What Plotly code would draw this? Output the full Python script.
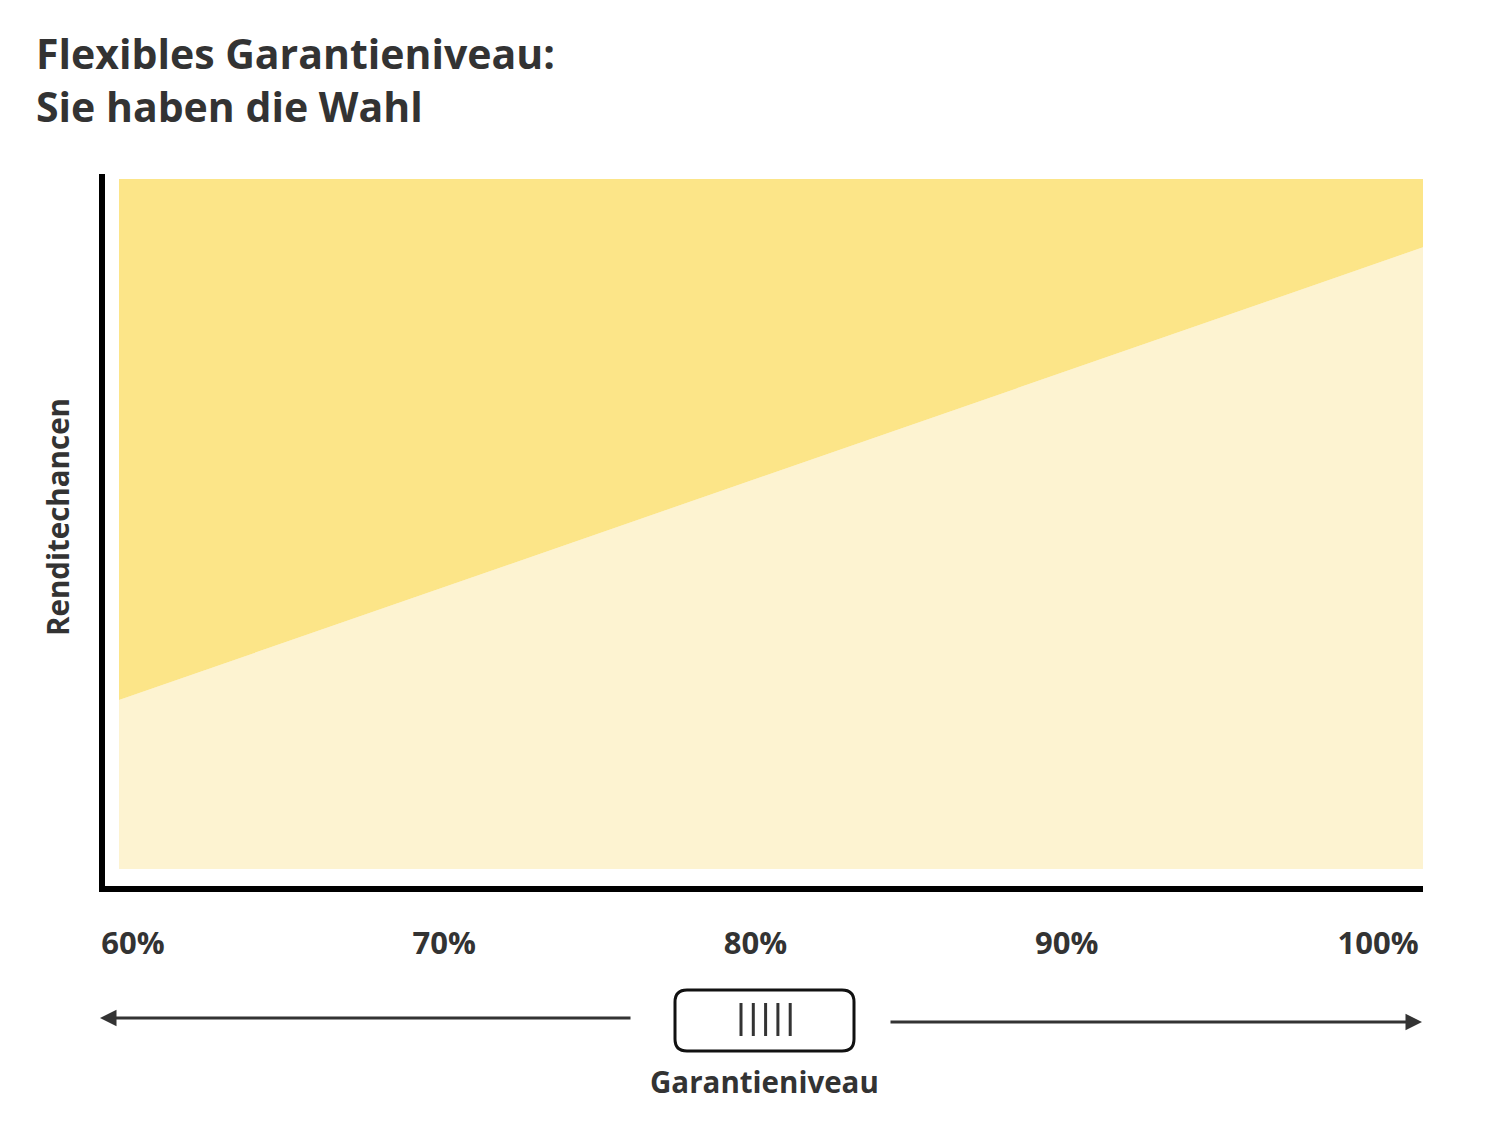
import plotly.graph_objects as go

# ---- data ----
garantie = [60, 100]                 # Garantieniveau (%)
grenze = [24.5, 90.1]                # boundary between the two zones (Renditechancen scale 0..100)
oben = [100, 100]                    # top of chart area
tick_vals = [60, 70, 80, 90, 100]
tick_text = ["60%", "70%", "80%", "90%", "100%"]
title_lines = ["Flexibles Garantieniveau:", "Sie haben die Wahl"]
y_label = "Renditechancen"
x_label = "Garantieniveau"

# page has an 8px body margin; figure is sized so the page fits the window
OFF = 8
W, H = 1500 - 2 * OFF, 1125 - 2 * OFF
def px(x):
    return (x - OFF) / W
def py(y):
    return 1 - (y - OFF) / H

FONT = "Open Sans"
TXT = "#333333"
LIGHT = "#FDF3D1"
DARK = "#FCE588"

fig = go.Figure()
fig.add_trace(go.Scatter(x=garantie, y=grenze, mode="lines", line=dict(width=0),
                         fill="tozeroy", fillcolor=LIGHT, hoverinfo="skip", showlegend=False))
fig.add_trace(go.Scatter(x=garantie, y=oben, mode="lines", line=dict(width=0),
                         fill="tonexty", fillcolor=DARK, hoverinfo="skip", showlegend=False))
fig.add_trace(go.Scatter(x=[None], y=[None], xaxis="x2", showlegend=False, hoverinfo="skip"))

shapes = []
# slider box (rounded rectangle)
bx0, bx1, by0, by1, r = 675, 854, 990, 1051, 12
path = (f"M {px(bx0+r)},{py(by0)} L {px(bx1-r)},{py(by0)} Q {px(bx1)},{py(by0)} {px(bx1)},{py(by0+r)} "
        f"L {px(bx1)},{py(by1-r)} Q {px(bx1)},{py(by1)} {px(bx1-r)},{py(by1)} "
        f"L {px(bx0+r)},{py(by1)} Q {px(bx0)},{py(by1)} {px(bx0)},{py(by1-r)} "
        f"L {px(bx0)},{py(by0+r)} Q {px(bx0)},{py(by0)} {px(bx0+r)},{py(by0)} Z")
shapes.append(dict(type="path", path=path, xref="paper", yref="paper",
                   line=dict(color="#111111", width=3), fillcolor="white"))
for i in range(5):
    xx = 741 + i * 12.3
    shapes.append(dict(type="line", xref="paper", yref="paper", x0=px(xx), x1=px(xx),
                       y0=py(1003), y1=py(1036), line=dict(color="#333333", width=3)))

annotations = [
    dict(text="<b>" + "<br>".join(title_lines) + "</b>", xref="paper", yref="paper",
         x=px(34), y=py(23), xanchor="left", yanchor="top", align="left", showarrow=False,
         font=dict(family=FONT, size=41, color=TXT)),
    dict(text="<b>" + y_label + "</b>", xref="paper", yref="paper", x=px(58), y=py(517),
         textangle=-90, showarrow=False, xanchor="center", yanchor="middle",
         font=dict(family=FONT, size=29.5, color=TXT)),
    dict(text="<b>" + x_label + "</b>", xref="paper", yref="paper", x=px(764), y=py(1081),
         showarrow=False, xanchor="center", yanchor="middle",
         font=dict(family=FONT, size=29.5, color=TXT)),
    # arrows
    dict(text="", xref="paper", yref="paper", x=px(100), y=py(1018), ax=632 - 100, ay=0,
         axref="pixel", ayref="pixel", showarrow=True, arrowhead=2, arrowsize=1.1,
         arrowwidth=3, arrowcolor="#333333"),
    dict(text="", xref="paper", yref="paper", x=px(1422), y=py(1022), ax=889 - 1422, ay=0,
         axref="pixel", ayref="pixel", showarrow=True, arrowhead=2, arrowsize=1.1,
         arrowwidth=3, arrowcolor="#333333"),
]

fig.update_layout(
    width=W, height=H, margin=dict(l=0, r=0, t=0, b=0, autoexpand=False),
    paper_bgcolor="white", plot_bgcolor="rgba(0,0,0,0)",
    shapes=shapes, annotations=annotations,
    xaxis=dict(domain=[px(105), px(1423)], range=[59.57, 100], showline=True, linecolor="black",
               linewidth=6, showgrid=False, zeroline=False, showticklabels=False, ticks="",
               fixedrange=True, automargin=False),
    yaxis=dict(domain=[py(886), py(174)], range=[-2.46, 100.72], showline=True, linecolor="black",
               linewidth=6, showgrid=False, zeroline=False, showticklabels=False, ticks="",
               fixedrange=True, automargin=False),
    xaxis2=dict(domain=[px(133), px(1378)], range=[60, 100], anchor="free",
                position=py(922), tickvals=tick_vals, ticktext=["<b>" + t + "</b>" for t in tick_text],
                showline=False, showgrid=False, zeroline=False, ticks="",
                tickfont=dict(family=FONT, size=31, color=TXT), fixedrange=True, automargin=False),
)

fig.write_html("out.html")
